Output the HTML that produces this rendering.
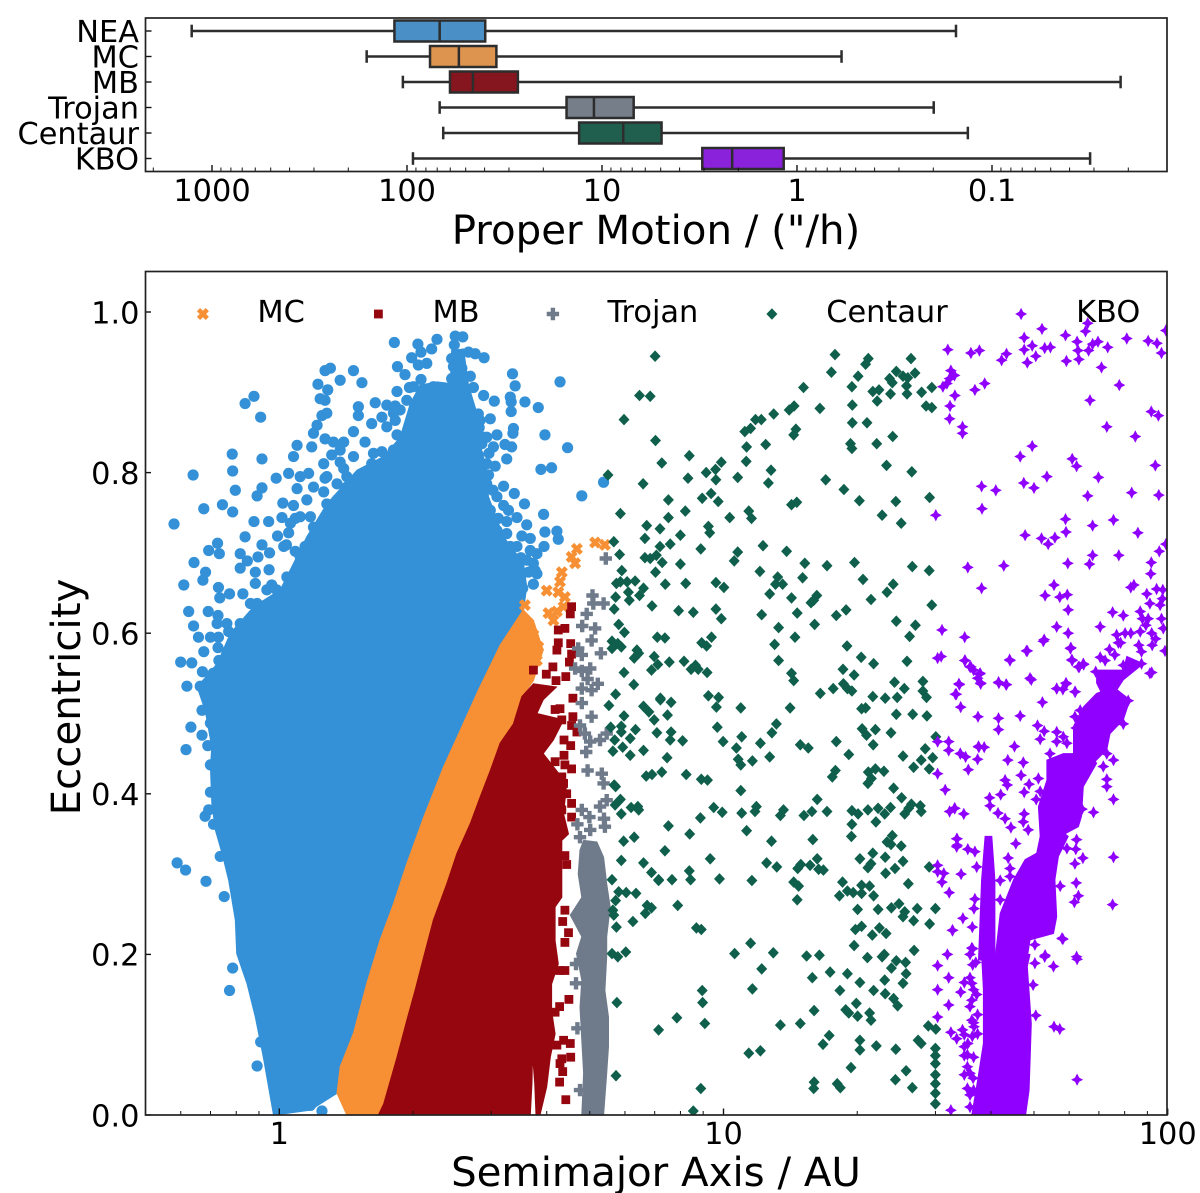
<!DOCTYPE html>
<html><head><meta charset="utf-8"><title>Proper motion and orbital elements</title>
<style>
html,body{margin:0;padding:0;background:#fff;width:1200px;height:1193px;overflow:hidden}
svg{display:block}
text{font-family:"DejaVu Sans","Liberation Sans",sans-serif;fill:#000}
</style></head><body>
<svg id="chart" xmlns="http://www.w3.org/2000/svg" width="1200" height="1193" viewBox="0 0 1200 1193">
<defs><clipPath id="mainClip"><rect x="145" y="271.5" width="1022" height="843.5"/></clipPath></defs>
<g id="topAxis"></g>
<g id="mainAxis"></g>
<text x="656" y="244" font-size="40.3" text-anchor="middle">Proper Motion / ("/h)</text>
<text x="656" y="1186" font-size="40.3" text-anchor="middle">Semimajor Axis / AU</text>
<text x="80" y="697" font-size="40.3" text-anchor="middle" transform="rotate(-90 80 697)">Eccentricity</text>
</svg>
<script>
// ---------- boxplot data (proper motion, "/h) ----------
const boxCategories = ['NEA','MC','MB','Trojan','Centaur','KBO'];
const boxWhiskerHigh = [1271,161,105,68,65.2,93.2];
const boxQ3 = [116,76.2,60.2,15.2,13.1,3.06];
const boxMedian = [68,54.2,45.9,11,7.78,2.15];
const boxQ1 = [39.7,34.8,27,6.88,4.95,1.17];
const boxWhiskerLow = [0.153,0.591,0.0219,0.199,0.133,0.0314];
const boxColors = ['#4a90c6','#dd944f','#85161f','#767e89','#205f4e','#8a22dc'];
const topTickValues = [1000,100,10,1,0.1];
const topTickLabels = ['1000','100','10','1','0.1'];
const mainXTicks = [1,10,100];
const mainXTickLabels = ['1','10','100'];
const mainYTicks = [0,0.2,0.4,0.6,0.8,1.0];
const mainYTickLabels = ['0.0','0.2','0.4','0.6','0.8','1.0'];
const legendLabels = ['MC','MB','Trojan','Centaur','KBO'];

// ---------- scatter data: [log10(a / AU), eccentricity] ----------
const neaRegion = [[-.013,0],[-.036,.072],[-.054,.122],[-.073,.164],[-.096,.201],[-.099,.243],[-.114,.292],[-.129,.326],[-.144,.355],[-.152,.388],[-.155,.434],[-.152,.458],[-.167,.504],[-.185,.533],[-.140,.562],[-.110,.600],[-.058,.633],[.002,.654],[.032,.687],[.062,.720],[.107,.761],[.175,.803],[.235,.820],[.272,.844],[.295,.886],[.317,.909],[.355,.913],[.385,.911],[.388,.952],[.415,.954],[.426,.909],[.445,.874],[.452,.836],[.467,.803],[.471,.770],[.505,.720],[.550,.687],[.557,.658],[.550,.629],[.542,.620],[.497,.585],[.448,.529],[.407,.479],[.370,.434],[.325,.371],[.287,.313],[.257,.263],[.227,.218],[.197,.164],[.167,.102],[.137,.060],[.130,.027],[.070,.006],[.017,.002]];
const neaPoints = [[-.237,.736],[-.194,.797],[-.170,.755],[-.128,.760],[-.105,.751],[-.105,.802],[-.106,.823],[-.099,.778],[-.077,.886],[-.057,.895],[-.042,.869],[-.039,.817],[-.050,.771],[-.039,.781],[-.057,.739],[-.077,.720],[-.007,.793],[.008,.762],[-.139,.712],[-.135,.699],[-.159,.703],[-.192,.688],[-.166,.676],[-.172,.666],[-.215,.660],[-.137,.657],[-.134,.644],[-.112,.649],[-.082,.649],[-.204,.627],[-.160,.627],[-.138,.622],[-.140,.612],[-.193,.609],[-.222,.564],[-.197,.563],[-.138,.582],[-.136,.566],[-.155,.595],[-.137,.595],[-.170,.577],[-.182,.595],[-.173,.552],[-.149,.550],[-.129,.546],[-.208,.534],[-.178,.534],[-.144,.535],
[-.118,.612],[-.092,.589],[-.088,.699],[-.072,.690],[-.088,.681],[-.048,.695],[-.022,.700],[-.039,.710],[-.023,.679],[-.054,.676],[-.054,.662],[-.017,.660],[-.006,.641],[.017,.637],[.016,.710],[.036,.702],[.058,.708],[-.004,.721],[-.024,.739],[.006,.744],[.032,.759],[.021,.725],[.070,.745],[.036,.743],[.062,.766],[.040,.780],[.021,.799],[.066,.799],[.100,.776],[.130,.766],[.118,.822],[.137,.813],[.100,.811],[.103,.793],[.145,.805],[.178,.786],[.208,.811],[.238,.799],[.265,.809],[.231,.826],[.167,.851],[.193,.838],[.145,.838],[.122,.838],[.103,.842],[.073,.832],[.077,.849],[.085,.859],[.040,.834],[.032,.820],[.096,.871],[.107,.874],[.178,.871],[.178,.882],[.216,.887],[.242,.884],[.261,.883],[.208,.861],[.231,.869],[.261,.865],[.265,.847],[.242,.857],[.092,.892],[.103,.890],[.109,.903],[.087,.910],[.103,.927],[.115,.930],[.167,.927],[.137,.915],[.186,.912],[.266,.932],[.283,.922],[.265,.901],[.259,.962],[.312,.960],[.355,.966],[.319,.950],[.343,.954],[.298,.943],[.313,.934],[.332,.936],[.396,.970],[.413,.969],[.394,.959],[.388,.942],[.426,.950],[.441,.948],[.461,.943],[.392,.932],[.411,.930],[.430,.920],[.388,.917],[.319,.916],[.293,.906],[.347,.907],[.437,.906],[.460,.896],[.484,.889],[.525,.923],[.531,.908],[.520,.894],[.522,.888],[.522,.876],[.553,.888],[.583,.881],[.632,.913],[.527,.855],[.526,.849],[.475,.867],[.448,.873],[.450,.856],[.490,.847],[.460,.844],[.456,.836],[.508,.835],[.523,.832],[.472,.824],[.448,.822],[.512,.817],[.486,.808],[.467,.811],[.471,.797],[.598,.847],[.649,.831],[.589,.804],[.613,.806],[.681,.771],[.730,.788],[.505,.783],[.481,.778],[.529,.774],[.552,.761],[.505,.759],[.516,.753],[.475,.753],[.493,.743],[.535,.744],[.512,.739],[.490,.728],[.595,.748],[.557,.735],[.546,.721],[.598,.726],[.625,.727],[.628,.717],[.565,.718],[.596,.708],[.580,.699],[.544,.694],[.557,.691],[.535,.708],[.508,.708],[.561,.676],[.580,.674],[.572,.661],[.548,.656],[.523,.660],
[-.065,.637],[-.058,.620],[-.050,.600],[-.024,.600],[-.032,.583],[.010,.616],[-.005,.595],[.010,.575],[.032,.612],[.055,.637],[.077,.643],[-.088,.612],[-.114,.602],[-.103,.566],[-.088,.558],[-.058,.568],[-.065,.554],[-.028,.554],[.002,.554],[.047,.678],[.070,.670],[.047,.695],[.092,.728],[.107,.761],[.152,.782],[.197,.786],
[-.199,.483],[-.210,.455],[-.161,.460],[-.174,.504],[-.155,.488],[-.167,.372],[-.148,.362],[-.159,.380],[-.155,.402],[-.230,.314],[-.211,.305],[-.165,.291],[-.124,.272],[-.105,.183],[-.112,.155],[-.050,.061],[-.042,.091],[.070,.012],[.096,.005],[.091,.022],[-.174,.473],[-.155,.436],[-.133,.322],
[.047,.795],[.077,.782],[.107,.795],[.152,.795],[.205,.799],[.130,.786],[.167,.820],[.137,.828],[.212,.824],[.257,.828],[.047,.745],[.077,.732],[.107,.724],[.025,.737],[.010,.708],[.062,.695],[.040,.678],[.017,.670],[-.006,.654],[-.050,.637],[-.028,.654],[.002,.637],[.032,.637],[-.065,.612],[-.028,.616],[-.110,.583],[-.088,.583],[-.065,.583],[-.043,.575],[-.118,.550],[-.088,.537],[-.050,.537],[.272,.878],[.257,.874],[.287,.890],[.302,.907],[.452,.865],[.467,.844],[.482,.832],[.467,.786],[.490,.770],[.512,.724],[.520,.708],[.572,.687],[.565,.703],[.576,.678],[.535,.678],[.512,.691]];
const mcRegion = [[.549,.629],[.572,.616],[.594,.579],[.572,.541],[.546,.521],[.527,.487],[.497,.463],[.475,.429],[.452,.396],[.430,.363],[.400,.326],[.377,.288],[.347,.243],[.325,.197],[.306,.156],[.287,.118],[.265,.072],[.235,.014],[.223,0],[.152,0],[.130,.027],[.137,.060],[.167,.102],[.197,.164],[.227,.218],[.257,.263],[.287,.313],[.325,.371],[.370,.434],[.407,.479],[.448,.529],[.497,.585]];
const mcPoints = [[.670,.705],[.658,.695],[.666,.687],[.711,.713],[.733,.710],[.636,.676],[.632,.664],[.602,.653],[.628,.651],[.643,.645],[.553,.635],[.606,.625],[.625,.627],[.640,.633],[.617,.616],[.561,.612],[.572,.598],[.553,.583],[.583,.583],[.580,.566],[.561,.556],[.557,.604]];
const mbRegion = [[.497,.463],[.527,.487],[.546,.521],[.572,.537],[.624,.533],[.594,.517],[.580,.500],[.640,.492],[.617,.467],[.594,.450],[.624,.429],[.647,.413],[.640,.375],[.651,.350],[.636,.342],[.636,.300],[.636,.271],[.621,.259],[.621,.217],[.628,.188],[.613,.163],[.613,.130],[.621,.101],[.610,.072],[.602,.035],[.587,0],[.578,0],[.575,.040],[.570,.075],[.569,.040],[.565,0],[.223,0],[.235,.014],[.265,.072],[.287,.118],[.306,.156],[.325,.197],[.347,.243],[.377,.288],[.400,.326],[.430,.363],[.452,.396],[.475,.429]];
const mbPoints = [[.658,.633],[.655,.624],[.628,.604],[.643,.606],[.628,.588],[.656,.587],[.625,.579],[.658,.574],[.653,.564],[.616,.558],[.601,.549],[.645,.546],[.623,.541],[.572,.554],[.661,.519],[.621,.505],[.632,.506],[.661,.496],[.636,.492],[.658,.485],[.670,.477],[.641,.467],[.656,.460],[.641,.448],[.621,.440],[.643,.436],[.658,.431],[.636,.421],[.640,.413],[.647,.400],[.628,.390],[.658,.388],[.594,.388],[.636,.380],[.658,.371],[.643,.323],[.647,.312],[.643,.255],[.638,.241],[.651,.227],[.643,.215],[.631,.180],[.643,.180],[.652,.144],[.631,.135],[.621,.128],[.640,.093],[.625,.087],[.655,.089],[.656,.072],[.636,.070],[.632,.064],[.638,.054],[.631,.041],[.645,.019]];
const trojanRegion = [[.685,.342],[.715,.340],[.730,.321],[.737,.288],[.745,.259],[.737,.222],[.737,.197],[.733,.155],[.741,.122],[.741,.085],[.737,.052],[.730,0],[.681,0],[.685,.052],[.681,.093],[.677,.134],[.681,.168],[.669,.201],[.681,.222],[.655,.249],[.681,.271],[.673,.300],[.677,.330]];
const trojanPoints = [[.707,.637],[.730,.637],[.692,.624],[.682,.609],[.711,.606],[.703,.591],[.673,.581],[.681,.573],[.724,.575],[.666,.556],[.681,.553],[.700,.556],[.694,.543],[.717,.537],[.681,.531],[.703,.529],[.681,.513],[.703,.496],[.677,.485],[.688,.475],[.700,.465],[.722,.467],[.737,.475],[.691,.452],[.694,.429],[.726,.425],[.730,.413],[.737,.392],[.722,.384],[.681,.380],[.698,.371],[.671,.362],[.731,.369],[.700,.355],[.733,.359],[.677,.346],[.668,.188],[.668,.164],[.671,.108],[.677,.031],[.735,.693],[.705,.647]];
const centaurPoints = [[.846,.945],[.811,.896],[.835,.895],[.776,.866],[.847,.840],[.861,.812],[.923,.821],[.995,.813],[.982,.804],[.961,.800],[.983,.791],[.920,.793],[.819,.786],[.740,.797],[.876,.766],[.952,.768],[.972,.774],[.988,.764],[.914,.752],[.768,.749],[.876,.744],[.827,.734],[.857,.730],[1.014,.744],[1.057,.752],[1.063,.743],[.966,.733],[.969,.725],[.903,.722],[.823,.718],[.857,.708],[.880,.711],[.753,.714],[.766,.698],[.949,.705],[1.032,.701],[1.024,.690],[.823,.694],[.835,.693],[.849,.697],[.862,.688],[.903,.686],[.847,.676],[.771,.678],[.759,.662],[.768,.664],[.783,.664],[.801,.665],[.820,.656],[.869,.661],[.915,.662],[.983,.663],[1.001,.657],[.786,.651],[.757,.645],[.788,.641],[.811,.647],[.839,.634],[.899,.628],[.932,.626],[.983,.630],[.995,.618],[.754,.630],[.764,.611],[.777,.601],[.851,.595],[.868,.594],[.749,.590],[.762,.587],[.770,.583],[.749,.581],[.805,.579],[.809,.575],[.799,.569],[.844,.571],[.878,.564],[.852,.561],[.838,.554],[.911,.565],[.937,.560],[.927,.555],[.943,.555],[.963,.551],[.973,.595],[.951,.588],[.962,.584],[.776,.551],[.798,.536],[.757,.524],[.858,.519],[.966,.522],[.989,.520],
[1.051,.814],[1.052,.832],[1.095,.835],[1.107,.803],[1.032,.794],[1.101,.787],[1.048,.851],[1.061,.855],[1.072,.866],[1.085,.866],[1.113,.873],[1.148,.878],[1.159,.883],[1.180,.906],[1.217,.880],[1.163,.854],[1.158,.847],[1.230,.791],[1.271,.779],[1.306,.765],[1.153,.760],[1.165,.763],[1.089,.709],[1.142,.702],[1.183,.687],[1.233,.684],[1.082,.677],[1.122,.670],[1.117,.661],[1.133,.661],[1.104,.649],[1.178,.669],[1.295,.688],[1.314,.667],[1.153,.644],[1.210,.647],[1.203,.641],[1.197,.638],[1.086,.623],[1.166,.625],[1.254,.622],[1.276,.629],[1.124,.607],[1.205,.611],[1.161,.595],[1.115,.586],[1.124,.566],[1.278,.584],[1.310,.570],[1.338,.562],[1.269,.555],[1.294,.548],[1.153,.550],[1.158,.541],[1.218,.525],[1.247,.531],[1.270,.537],[1.279,.531],[1.289,.528],
[1.251,.947],[1.243,.925],[1.326,.942],[1.320,.935],[1.303,.920],[1.289,.907],[1.290,.884],[1.290,.862],[1.323,.862],[1.346,.889],[1.336,.901],[1.350,.903],[1.374,.917],[1.380,.912],[1.376,.898],[1.389,.926],[1.404,.920],[1.415,.918],[1.431,.924],[1.422,.942],[1.412,.908],[1.413,.898],[1.446,.900],[1.469,.906],[1.456,.883],[1.469,.881],[1.381,.845],[1.345,.836],[1.286,.836],[1.289,.830],[1.367,.809],[1.424,.801],[1.388,.764],[1.357,.747],[1.400,.737],[1.464,.769],[1.425,.683],[1.463,.678],[1.382,.661],[1.368,.651],[1.332,.642],[1.469,.635],[1.389,.615],[1.432,.610],[1.419,.596],[1.413,.565],[1.385,.539],[1.407,.531],[1.449,.540],[1.449,.528],[1.336,.521],[1.364,.519],[1.391,.520],[1.457,.520],
[.742,.510],[.820,.509],[.858,.517],[.882,.514],[.832,.502],[.776,.497],[.844,.492],[.874,.498],[.984,.508],[1.039,.507],[1.150,.507],[1.311,.506],[1.320,.507],[1.389,.499],[1.426,.499],[1.458,.497],[.770,.484],[.746,.483],[.770,.477],[.802,.480],[.850,.476],[.882,.477],[.880,.467],[.986,.483],[1.119,.487],[1.109,.476],[1.041,.471],[.755,.467],[.790,.469],[.773,.458],[.751,.453],[.820,.454],[.790,.448],[.908,.466],[.999,.465],[1.083,.463],[1.029,.457],[1.033,.443],[1.065,.441],[1.039,.436],[1.104,.446],[.873,.445],[1.312,.481],[1.322,.473],[1.342,.480],[1.377,.476],[1.173,.461],[1.191,.457],[1.254,.465],[1.337,.461],[1.282,.449],[1.404,.447],[1.454,.456],[1.445,.442],[1.471,.445],[1.478,.471],[1.428,.433],[1.463,.431],[.826,.422],[.839,.424],[.861,.427],[.916,.424],[.950,.418],[.964,.417],[1.252,.429],[1.245,.421],[1.326,.427],[1.342,.431],[1.361,.428],[1.325,.413],[1.333,.419],[.754,.411],[.757,.409],[1.383,.407],[1.039,.404],[1.401,.395],[1.211,.393],[.768,.393],[.756,.386],[.792,.383],[.807,.384],[.809,.380],[.770,.375],[.978,.383],[.997,.377],[.948,.370],[1.041,.376],[1.074,.384],[1.071,.378],[1.135,.380],[1.128,.373],[1.181,.373],[1.199,.378],[1.233,.378],[1.289,.379],[1.303,.375],[1.325,.380],[1.348,.382],[1.363,.375],[1.376,.383],[1.408,.375],[1.417,.382],[1.423,.387],[1.443,.385],[1.445,.378],[.876,.360],[1.052,.354],[.924,.350],[1.343,.365],[1.289,.362],[1.288,.347],[.799,.346],[.775,.341],[1.108,.341],[1.201,.343],[1.380,.348],[1.368,.340],[1.377,.337],[1.400,.335],[.868,.329],[.970,.319],[.770,.317],[.820,.314],[1.097,.314],[1.120,.309],[1.174,.312],[1.167,.307],[1.195,.311],[1.211,.319],[1.214,.306],[1.225,.305],[1.336,.326],[1.307,.319],[1.364,.321],[1.332,.313],[1.325,.308],[1.404,.316],[1.386,.307],[1.463,.309],[1.365,.301],[.923,.304],[.838,.302],[.854,.293],[.854,.292],[.884,.293],[.926,.293],[.991,.294],[1.064,.292],[.749,.293],[1.158,.290],[1.169,.285],[1.268,.290],[1.311,.286],[1.329,.285],[1.416,.288],[1.279,.279],[1.292,.277],[1.311,.276],[1.261,.273],[1.338,.273],[1.166,.268],[.764,.278],[.781,.277],[.803,.276],[.757,.267],[.828,.261],[.838,.258],[.897,.261],[.824,.251],[.751,.255],[.753,.249],[1.378,.258],[1.395,.263],[1.408,.253],[1.436,.257],[1.477,.257],[1.302,.256],[1.348,.256],[1.404,.247],[1.428,.242],[1.464,.238],[.796,.241],[.759,.234],[.939,.233],[.950,.231],[1.297,.231],[1.311,.235],[1.351,.233],[1.335,.224],[1.366,.226],[1.061,.214],[1.025,.201],[1.294,.211],[.780,.203],[.749,.201],[.762,.197],[1.112,.202],[1.187,.198],[1.216,.199],[1.357,.197],[1.324,.196],[1.362,.200],[1.429,.205],[1.389,.192],[1.410,.190],[1.086,.182],[1.240,.178],[1.279,.176],[1.200,.171],[1.378,.183],[1.411,.176],[1.363,.168],[1.404,.164],[1.307,.165],[1.065,.157],[.952,.155],[1.262,.155],[1.338,.155],[1.364,.151],[1.383,.145],[.760,.140],[.953,.140],[1.299,.139],[1.392,.136],[1.204,.130],[1.275,.131],[1.282,.127],[1.302,.123],[1.329,.127],[1.332,.118],[.895,.121],[.958,.114],[1.128,.112],[1.173,.114],[1.461,.111],[1.478,.107],[.854,.106],[1.238,.099],[1.224,.088],[1.307,.093],[1.344,.086],[1.388,.082],[1.307,.081],[1.438,.093],[1.445,.089],[1.057,.077],[1.083,.080],[1.287,.059],[1.411,.055],[1.387,.044],[.758,.049],[1.204,.041],[1.203,.033],[1.256,.039],[1.263,.034],[1.425,.034],[.949,.033],[.932,.005],[1.477,.083],[1.477,.074],[1.477,.064],[1.477,.050],[1.477,.039],[1.477,.027],[1.477,.014]];
const kboCore = [[1.559,0],[1.572,.043],[1.585,.089],[1.585,.156],[1.581,.200],[1.690,.200],[1.684,.185],[1.693,.114],[1.688,.031],[1.680,0]];
const kboStick = [[1.589,.347],[1.604,.347],[1.611,.293],[1.611,.193],[1.574,.193],[1.581,.293]];
const kboBase = [[1.623,.251],[1.653,.293],[1.679,.318],[1.705,.326],[1.713,.347],[1.758,.355],[1.776,.347],[1.754,.322],[1.746,.293],[1.750,.247],[1.743,.226],[1.690,.218],[1.683,.193],[1.611,.193]];
const kboLumpMiddle = [[1.709,.384],[1.728,.417],[1.728,.442],[1.765,.450],[1.825,.450],[1.840,.438],[1.810,.409],[1.806,.372],[1.799,.359],[1.758,.347],[1.713,.347]];
const kboLumpUpper = [[1.788,.484],[1.810,.508],[1.840,.525],[1.878,.533],[1.915,.517],[1.900,.492],[1.870,.475],[1.863,.455],[1.825,.434],[1.788,.446]];
const kboLumpTop = [[1.840,.538],[1.840,.554],[1.900,.554],[1.908,.571],[1.945,.562],[1.900,.542],[1.885,.529],[1.855,.521]];
const kboPoints = [[1.505,.953],[1.557,.949],[1.576,.952],[1.626,.940],[1.637,.948],[1.677,.968],[1.677,.953],[1.695,.958],[1.703,.945],[1.684,.937],[1.717,.979],[1.723,.955],[1.736,.956],[1.770,.971],[1.772,.939],[1.796,.963],[1.798,.952],[1.800,.941],[1.822,.952],[1.831,.960],[1.843,.963],[1.815,.976],[1.820,.986],[1.865,.956],[1.851,.931],[1.908,.967],[1.956,.964],[1.976,.961],[1.986,.949],[1.996,.977],[1.891,.909],[1.825,.890],[1.963,.876],[1.979,.871],[1.863,.857],[1.927,.845],[1.695,.833],[1.668,.820],[1.785,.817],[1.795,.808],[1.972,.809],[1.728,.795],[1.844,.794],[1.676,.787],[1.699,.781],[1.919,.775],[1.980,.772],[1.820,.771],[1.512,.927],[1.520,.921],[1.509,.917],[1.503,.911],[1.494,.907],[1.588,.911],[1.566,.903],[1.521,.896],[1.510,.883],[1.509,.867],[1.538,.857],[1.538,.849],[1.581,.783],[1.613,.778],[1.582,.755],[1.478,.747],[1.770,.742],[1.831,.734],[1.878,.741],[1.771,.726],[1.679,.722],[1.716,.718],[1.746,.719],[1.731,.711],[1.933,.725],[1.981,.702],[1.996,.711],[1.831,.697],[1.890,.697],[1.775,.687],[1.824,.686],[1.963,.688],[1.550,.682],[1.631,.684],[1.962,.674],[1.924,.660],[1.917,.657],[1.581,.656],[1.744,.660],[1.724,.647],[1.757,.645],[1.774,.648],[1.776,.629],[1.876,.626],[1.900,.622],[1.953,.649],[1.975,.655],[1.989,.654],[1.988,.643],[1.960,.637],[1.983,.635],[1.938,.627],[1.943,.618],[1.956,.618],[1.986,.618],[1.951,.610],[1.964,.600],[1.990,.606],[1.938,.602],[1.917,.600],[1.904,.600],[1.885,.598],[1.894,.588],[1.973,.593],[1.848,.608],[1.750,.608],[1.776,.600],[1.492,.604],[1.543,.595],[1.722,.592],[1.781,.581],[1.684,.578],[1.645,.566],[1.482,.569],[1.490,.571],[1.544,.566],[1.555,.558],[1.563,.554],[1.576,.549],[1.572,.544],[1.579,.537],[1.785,.566],[1.801,.558],[1.811,.561],[1.693,.542],[1.620,.538],[1.637,.536],[1.531,.536],[1.524,.524],[1.750,.531],[1.764,.530],[1.772,.537],[1.792,.527],
[1.543,.566],[1.644,.567],[1.682,.578],[1.782,.582],[1.784,.567],[1.557,.558],[1.578,.550],[1.690,.544],[1.530,.537],[1.579,.538],[1.619,.539],[1.636,.536],[1.522,.524],[1.750,.531],[1.771,.538],[1.791,.527],[1.718,.514],[1.534,.508],[1.573,.496],[1.619,.494],[1.668,.497],[1.619,.480],[1.707,.485],[1.722,.478],[1.713,.468],[1.574,.459],[1.587,.458],[1.655,.459],[1.533,.450],[1.545,.446],[1.572,.443],[1.551,.430],[1.640,.442],[1.675,.439],[1.670,.423],[1.688,.412],[1.634,.417],[1.639,.411],[1.677,.402],[1.624,.399],[1.599,.395],[1.600,.385],[1.520,.382],[1.541,.375],[1.618,.376],[1.634,.369],[1.647,.358],[1.677,.375],[1.675,.365],[1.686,.355],[1.658,.338],[1.525,.344],[1.525,.334],[1.550,.331],[1.566,.328],[1.641,.320],[1.570,.309],[1.535,.300],[1.645,.307],[1.623,.292],[1.566,.269],[1.564,.257],[1.539,.245],[1.560,.234],[1.559,.208],[1.515,.230],[1.623,.268],[1.645,.297],[1.762,.220],[1.758,.285],[1.794,.289],[1.799,.273],[1.790,.265],[1.791,.313],[1.809,.320],[1.793,.331],[1.773,.332],[1.795,.343],[1.878,.321],[1.876,.262],[1.878,.393],[1.833,.377],[1.807,.381],[1.863,.418],[1.863,.409],[1.855,.434],[1.878,.442],[1.863,.450],[1.795,.197],[1.701,.212],[1.724,.199],[1.900,.487],[1.911,.516],[1.964,.551],[1.935,.585],[1.965,.585],[1.994,.578],[1.941,.577],[1.889,.588],[1.869,.580],[1.848,.570],[1.859,.566],[1.881,.573],[1.810,.562],[1.799,.558],[1.720,.590],[1.803,.504],[1.791,.496],[1.794,.482],[1.810,.473],[1.773,.463],[1.750,.465],[1.750,.477],[1.765,.471],[1.709,.419],[1.713,.403],[1.704,.393],[1.735,.450],[1.838,.552],[1.878,.542],[1.900,.560],[1.941,.562],[1.960,.550],
[1.482,.311],[1.482,.303],[1.496,.301],[1.492,.290],[1.508,.277],[1.516,.230],[1.504,.200],[1.482,.186],[1.507,.171],[1.542,.165],[1.482,.156],[1.559,.164],[1.534,.153],[1.507,.137],[1.559,.143],[1.482,.122],[1.512,.103],[1.538,.106],[1.525,.095],[1.564,.110],[1.542,.085],[1.542,.074],[1.542,.050],[1.549,.033],[1.512,.006],[1.561,.187],[1.561,.207],[1.764,.219],[1.796,.194],[1.743,.185],[1.723,.197],[1.701,.189],[1.697,.162],[1.703,.124],[1.744,.110],[1.757,.107],[1.796,.044],[1.507,.465],[1.482,.465],[1.507,.454],[1.533,.450],[1.575,.458],[1.499,.405],[1.521,.382],[1.509,.378],[1.482,.425],[1.526,.344],[1.526,.336],
[1.555,.010],[1.563,.031],[1.555,.052],[1.563,.072],[1.550,.089],[1.572,.101],[1.559,.118],[1.555,.135],[1.563,.156],[1.555,.171],[1.563,.115],[1.542,.100],[1.568,.190],[1.555,.200],[1.570,.150],[1.572,.125],[1.560,.098],[1.549,.075],[1.549,.060],[1.562,.046],[1.555,.025]];

// ---------- axis functions ----------
function xMain(logA){ return 279.3 + 444.2 * logA; }
function yMain(e){ return 1115 - 803 * e; }
function xTop(v){ return 797 - 195 * Math.log10(v); }
function yRow(i){ return 31 + 25.5 * i; }

const NS = 'http://www.w3.org/2000/svg';
function mk(parent, tag, attrs, txt){
  const el = document.createElementNS(NS, tag);
  for (const k in attrs) el.setAttribute(k, attrs[k]);
  if (txt !== undefined) el.textContent = txt;
  parent.appendChild(el);
  return el;
}

// ---------- marker shapes ----------
function markerPath(kind, x, y){
  const f = n => n.toFixed(1);
  const poly = pts => 'M' + pts.map(p => f(x + p[0]) + ' ' + f(y + p[1])).join('L') + 'Z';
  if (kind === 'x') return poly([[-2.8,-6],[0,-3.2],[2.8,-6],[6,-2.8],[3.2,0],[6,2.8],[2.8,6],[0,3.2],[-2.8,6],[-6,2.8],[-3.2,0],[-6,-2.8]]);
  if (kind === 'square') return poly([[-4.4,-4.4],[4.4,-4.4],[4.4,4.4],[-4.4,4.4]]);
  if (kind === 'plus') return poly([[-2.2,-6.2],[2.2,-6.2],[2.2,-2.2],[6.2,-2.2],[6.2,2.2],[2.2,2.2],[2.2,6.2],[-2.2,6.2],[-2.2,2.2],[-6.2,2.2],[-6.2,-2.2],[-2.2,-2.2]]);
  if (kind === 'diamond') return poly([[0,-5.8],[5.5,0],[0,5.8],[-5.5,0]]);
  return poly([[0,-6.2],[2.1,-2.1],[6,0],[2.1,2.1],[0,6.2],[-2.1,2.1],[-6,0],[-2.1,-2.1]]);
}
const colorNea = '#3491d8', colorMc = '#f79034', colorMb = '#96060f', colorTrojan = '#6f7b8b', colorCentaur = '#0f5f4c', colorKbo = '#8f00ff';

// ---------- top axis ----------
const topGroup = document.getElementById('topAxis');
boxCategories.forEach(function(name, i){
  const y = yRow(i);
  const row = mk(topGroup, 'g', {});
  
  
  mk(row, 'line', {x1:xTop(boxWhiskerHigh[i]), x2:xTop(boxWhiskerLow[i]), y1:y, y2:y, stroke:'#2d2d2d', 'stroke-width':2.5});
  mk(row, 'line', {x1:xTop(boxWhiskerHigh[i]), x2:xTop(boxWhiskerHigh[i]), y1:y-6.3, y2:y+6.3, stroke:'#2d2d2d', 'stroke-width':2.5});
  mk(row, 'line', {x1:xTop(boxWhiskerLow[i]), x2:xTop(boxWhiskerLow[i]), y1:y-6.3, y2:y+6.3, stroke:'#2d2d2d', 'stroke-width':2.5});
  mk(row, 'rect', {x:xTop(boxQ3[i]), y:y-10.5, width:xTop(boxQ1[i])-xTop(boxQ3[i]), height:21, fill:boxColors[i], stroke:'#2d2d2d', 'stroke-width':2.5});
  mk(row, 'line', {x1:xTop(boxMedian[i]), x2:xTop(boxMedian[i]), y1:y-10.5, y2:y+10.5, stroke:'#2d2d2d', 'stroke-width':2.5});
  const lab = mk(row, 'text', {x:139, y:y+11, 'font-size':30.4, 'text-anchor':'end'}, name);
  
  
  mk(row, 'line', {x1:145, x2:151.5, y1:y, y2:y, stroke:'#111', 'stroke-width':1.4});
});
topTickValues.forEach(function(v, i){
  const lab = mk(topGroup, 'text', {x:xTop(v), y:201, 'font-size':30.4, 'text-anchor':'middle'}, topTickLabels[i]);
  
  
  mk(topGroup, 'line', {x1:xTop(v), x2:xTop(v), y1:171.5, y2:165, stroke:'#111', 'stroke-width':1.4});
});
[1000,100,10,1,0.1,0.01].forEach(function(dec){
  [2,3,4,5,6,7,8,9].forEach(function(m){
    const x = xTop(dec*m);
    if (x > 146 && x < 1166) mk(topGroup, 'line', {x1:x, x2:x, y1:171.5, y2:167.5, stroke:'#111', 'stroke-width':1});
  });
});
const topFrame = mk(topGroup, 'rect', {x:145.5, y:18, width:1021.5, height:153.5, fill:'none', stroke:'#222', 'stroke-width':1.7});



// ---------- main axis ----------
const mainGroup = document.getElementById('mainAxis');
const plotGroup = mk(mainGroup, 'g', {'clip-path':'url(#mainClip)'});
function drawRegion(points, color, name){
  const d = 'M' + points.map(p => xMain(p[0]).toFixed(1) + ' ' + yMain(p[1]).toFixed(1)).join('L') + 'Z';
  const el = mk(plotGroup, 'path', {d:d, fill:color, stroke:color, 'stroke-width':1});
  
  
}
function drawCircles(points, color, name){
  points.forEach(function(p){
    const el = mk(plotGroup, 'circle', {cx:xMain(p[0]), cy:yMain(p[1]), r:5.6, fill:color});
    
    
  });
}
function drawMarkers(points, kind, color, name){
  points.forEach(function(p){
    const el = mk(plotGroup, 'path', {d:markerPath(kind, xMain(p[0]), yMain(p[1])), fill:color});
    
    
  });
}
drawRegion(neaRegion, colorNea, 'nea-dense-region');
drawCircles(neaPoints, colorNea, 'nea-point');
drawRegion(mcRegion, colorMc, 'mc-dense-region');
drawMarkers(mcPoints, 'x', colorMc, 'mc-point');
drawRegion(mbRegion, colorMb, 'mb-dense-region');
drawMarkers(mbPoints, 'square', colorMb, 'mb-point');
drawRegion(trojanRegion, colorTrojan, 'trojan-dense-region');
drawMarkers(trojanPoints, 'plus', colorTrojan, 'trojan-point');
drawMarkers(centaurPoints, 'diamond', colorCentaur, 'centaur-point');
drawRegion(kboCore, colorKbo, 'kbo-dense-core');
drawRegion(kboStick, colorKbo, 'kbo-dense-stick');
drawRegion(kboBase, colorKbo, 'kbo-dense-base');
drawRegion(kboLumpMiddle, colorKbo, 'kbo-dense-lump-middle');
drawRegion(kboLumpUpper, colorKbo, 'kbo-dense-lump-upper');
drawRegion(kboLumpTop, colorKbo, 'kbo-dense-lump-top');
drawMarkers(kboPoints, 'star', colorKbo, 'kbo-point');

// legend
const legendKinds = ['x','square','plus','diamond','star'];
const legendColors = [colorMc, colorMb, colorTrojan, colorCentaur, colorKbo];
const legendMarkerLogA = [-.172,.223,.616,1.109,1.670];
const legendTextLogA = [.004,.398,.841,1.368,1.866];
const legendGroup = mk(mainGroup, 'g', {});


legendLabels.forEach(function(name, i){
  const entry = mk(legendGroup, 'g', {});
  
  
  mk(entry, 'path', {d:markerPath(legendKinds[i], xMain(legendMarkerLogA[i]), 314), fill:legendColors[i]});
  mk(entry, 'text', {x:xMain(legendTextLogA[i]), y:322, 'font-size':30.4, 'text-anchor':'middle'}, name);
});

// ticks
mainXTicks.forEach(function(v, i){
  const x = xMain(Math.log10(v));
  const lab = mk(mainGroup, 'text', {x:x, y:1144, 'font-size':30.4, 'text-anchor':'middle'}, mainXTickLabels[i]);
  
  
  mk(mainGroup, 'line', {x1:x, x2:x, y1:1115, y2:1108.5, stroke:'#111', 'stroke-width':1.4});
});
[0.1,1,10].forEach(function(dec){
  [2,3,4,5,6,7,8,9].forEach(function(m){
    const v = dec*m;
    if (v > 0.5 && v < 100){
      const x = xMain(Math.log10(v));
      mk(mainGroup, 'line', {x1:x, x2:x, y1:1115, y2:1111, stroke:'#111', 'stroke-width':1});
    }
  });
});
mainYTicks.forEach(function(v, i){
  const y = yMain(v);
  const lab = mk(mainGroup, 'text', {x:139.5, y:y+11.3, 'font-size':30.4, 'text-anchor':'end'}, mainYTickLabels[i]);
  
  
  mk(mainGroup, 'line', {x1:145, x2:151, y1:y, y2:y, stroke:'#111', 'stroke-width':1.4});
});
const mainFrame = mk(mainGroup, 'rect', {x:145.5, y:271.5, width:1021.5, height:843.5, fill:'none', stroke:'#222', 'stroke-width':1.7});


</script>
</body></html>
